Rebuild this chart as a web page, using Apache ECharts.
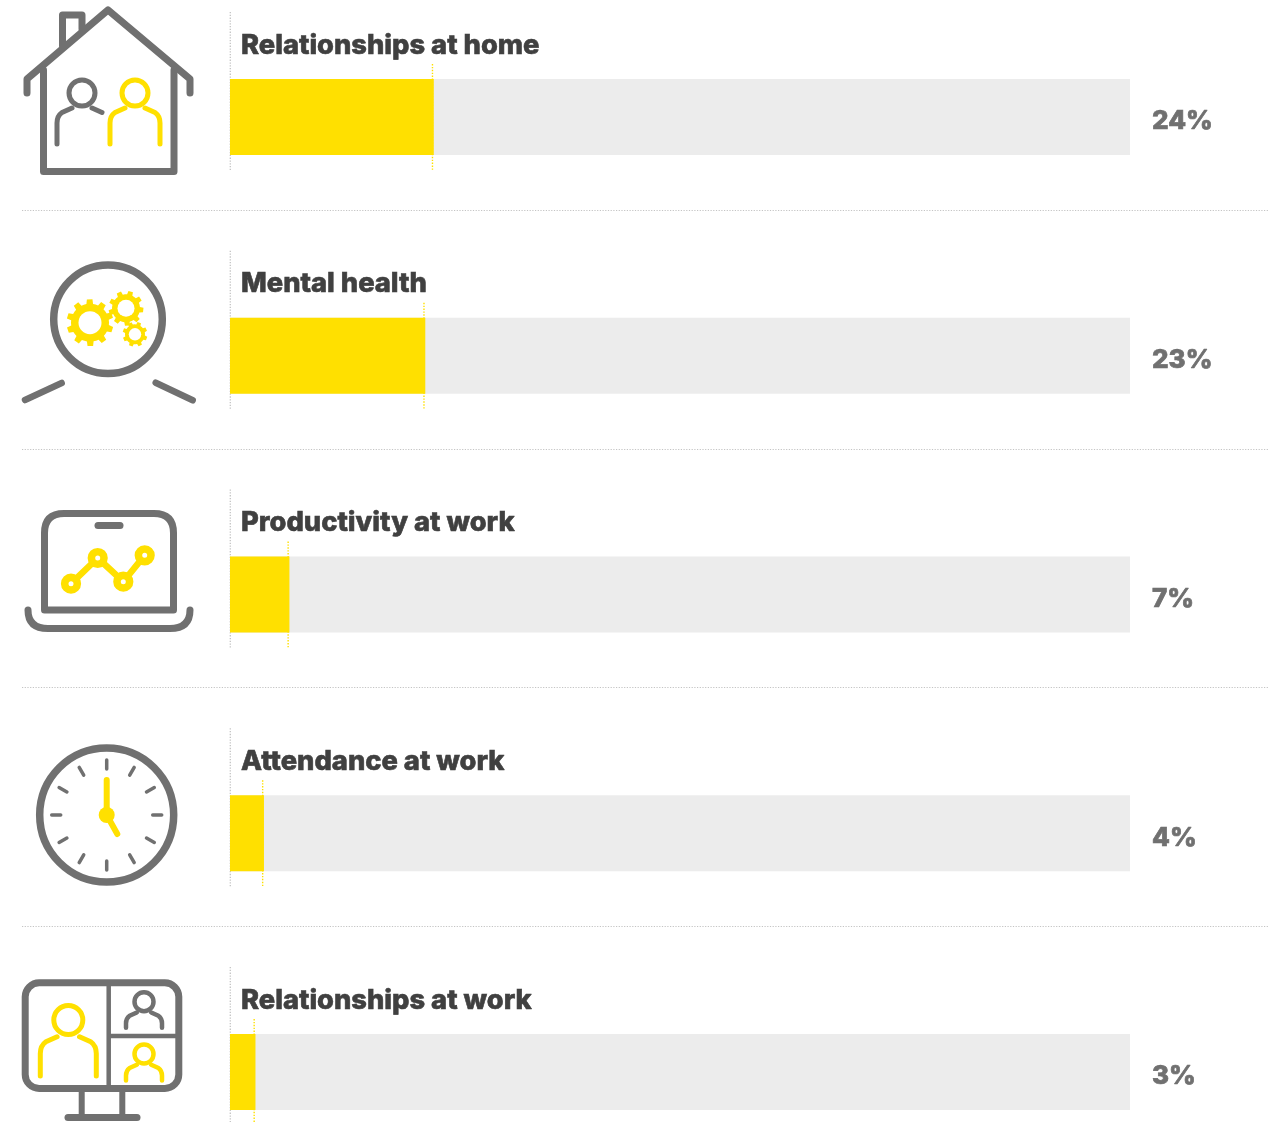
<!DOCTYPE html>
<html><head><meta charset="utf-8">
<style>html,body{margin:0;padding:0;background:#fff}#c{width:1271px;height:1122px}</style>
<script src="https://cdn.jsdelivr.net/npm/echarts@6/dist/echarts.min.js"></script>
</head><body><div id="c"></div>
<script>
const categories = ['Relationships at home','Mental health','Productivity at work','Attendance at work','Relationships at work'];
const percentages = [24,23,7,4,3];
const axisMax = 106;
const trackValues = [axisMax,axisMax,axisMax,axisMax,axisMax];

const GRAY='#707070', YEL='#FFE000', FONT='Inter, Roboto, sans-serif';
const chart = echarts.init(document.getElementById('c'),null,{renderer:'canvas'});

function stroke(d,color,lw){return {type:'path',shape:{pathData:d},style:{fill:'none',stroke:color,lineWidth:lw,lineCap:'round',lineJoin:'round'}};}
function fill(d,color){return {type:'path',shape:{pathData:d},style:{fill:color,stroke:null}};}
function circ(cx,cy,r,color,lw,f){return {type:'circle',shape:{cx,cy,r},style:{fill:f||'none',stroke:color,lineWidth:lw}};}
function person(cx,cy,r,s,bottom,color,lw,rightStub){
  const x=v=>(cx+v*s).toFixed(1), y=v=>(cy+v*s).toFixed(1), b=(cy+bottom).toFixed(1);
  const L=`M${x(-10)},${y(15)} L${x(-20)},${y(19.5)} Q${x(-25)},${y(23)} ${x(-25)},${y(30)} L${x(-25)},${b}`;
  const R=rightStub?`M${x(10)},${y(15)} L${x(20)},${y(19.5)}`:`M${x(10)},${y(15)} L${x(20)},${y(19.5)} Q${x(25)},${y(23)} ${x(25)},${y(30)} L${x(25)},${b}`;
  return [circ(cx,cy,r,color,lw),stroke(L+' '+R,color,lw)];
}
function gear(cx,cy,R,root,hole,n,rot){
  let d='';
  const step=2*Math.PI/n;
  for(let i=0;i<n;i++){
    const a=rot+i*step, p=[[-.5,root],[-.28,root],[-.19,R],[.19,R],[.28,root],[.5,root]];
    p.forEach((q,j)=>{const t=a+q[0]*step;d+=((i===0&&j===0)?'M':'L')+(cx+q[1]*Math.cos(t)).toFixed(2)+','+(cy+q[1]*Math.sin(t)).toFixed(2)+' ';});
  }
  return [fill(d+'Z',YEL),circ(cx,cy,hole,'#fff',0,'#fff')];
}
const icons=[];
// house
icons.push(stroke('M62.5,46 L62.5,15 L82,15 L82,29',GRAY,7));
icons.push(stroke('M27,93 L27,79 L108,10 L190,79 L190,93',GRAY,7));
icons.push(stroke('M43.5,70 L43.5,171.5 L174,171.5 L174,70',GRAY,7));
icons.push(...person(82,93,13,1,51,GRAY,5,true));
icons.push(...person(135,93,13,1,51,YEL,5,false));
// magnifier
icons.push(circ(108,319.3,54.3,GRAY,7.5));
icons.push(stroke('M25,400 L61.7,383 M155.7,382.7 L192.7,400.3',GRAY,6.5));
icons.push(...gear(90,322.7,23.5,19,11.5,10,0.3));
icons.push(...gear(126,308.3,17.5,14,8.5,9,0.1));
icons.push(...gear(135,334.3,12.5,10,6.2,8,0.35));
// laptop
icons.push(stroke('M44.5,610 V533 Q44.5,513.5 64,513.5 H154 Q173.5,513.5 173.5,533 V610 Z',GRAY,7));
icons.push(stroke('M98,525.5 H120',GRAY,7));
icons.push(stroke('M28,610 Q28,628.5 48,628.5 H170 Q190,628.5 190,610',GRAY,7));
icons.push(stroke('M71,583.7 L97.7,558 L123.3,581.7 L144.7,555.3',YEL,6.5));
[[71,583.7],[97.7,558],[123.3,581.7],[144.7,555.3]].forEach(p=>icons.push(circ(p[0],p[1],6.3,YEL,7.6,'#fff')));
// clock
icons.push(circ(106.7,815,67,GRAY,7.5));
for(let i=0;i<12;i++){
  const a=i*Math.PI/6,s=Math.sin(a),c=Math.cos(a);
  icons.push(stroke(`M${(106.7+46*s).toFixed(1)},${(815-46*c).toFixed(1)} L${(106.7+55*s).toFixed(1)},${(815-55*c).toFixed(1)}`,GRAY,3.5));
}
icons.push(stroke('M106.7,815 L106.7,780 M106.7,815 L117.3,834',YEL,6));
icons.push(circ(106.7,815,8,YEL,0,YEL));
// monitor
icons.push({type:'rect',shape:{x:25.2,y:982.8,width:153.6,height:105.7,r:14},style:{fill:'none',stroke:GRAY,lineWidth:7}});
icons.push({type:'path',shape:{pathData:'M108.7,983 V1088 M108.7,1036 H178'},style:{fill:'none',stroke:GRAY,lineWidth:4.5}});
icons.push(stroke('M81.7,1092 V1115 M122.3,1092 V1115',GRAY,6));
icons.push(stroke('M68,1117.5 H137',GRAY,7));
icons.push(...person(68.3,1020,14.5,1.12,56,YEL,5,false));
icons.push(...person(144,1001.7,9.5,.72,26,GRAY,4.5,false));
icons.push(...person(144,1054,9.5,.72,26.5,YEL,4.5,false));
// dividers
[210,449,687,926].forEach(y=>icons.push({type:'line',shape:{x1:22,y1:y+.5,x2:1269,y2:y+.5},style:{stroke:'#c4c4c4',lineWidth:1.2,lineDash:[1.2,1.5]}}));

function ticks(params,api){
  const v=api.value(0), cat=api.value(1);
  const c0=api.coord([0,cat]), c1=api.coord([v,cat]);
  const half=38;
  return {type:'group',children:[
    {type:'line',shape:{x1:c0[0]+.3,y1:c0[1]-half-67,x2:c0[0]+.3,y2:c0[1]+half+15},style:{stroke:'#c4c4c4',lineWidth:1.3,lineDash:[1.3,1.5]}},
    {type:'line',shape:{x1:c1[0]-1.3,y1:c1[1]-half-15,x2:c1[0]-1.3,y2:c1[1]+half+15},style:{stroke:YEL,lineWidth:1.4,lineDash:[1.4,1.5]}}
  ]};
}

chart.setOption({
  animation:false,
  backgroundColor:'#fff',
  grid:{left:230,width:900,top:117,height:955,containLabel:false},
  xAxis:{type:'value',min:0,max:axisMax,show:false},
  yAxis:{type:'category',inverse:true,boundaryGap:false,data:categories,show:false},
  series:[
    {type:'custom',coordinateSystem:'none',data:[[0]],z:1,silent:true,clip:false,
     renderItem:()=>({type:'group',children:icons})},
    {type:'bar',data:trackValues,barWidth:76,barGap:'-100%',z:2,silent:true,clip:false,itemStyle:{color:'#ECECEC'},
     label:{show:true,position:'right',distance:22,offset:[0,4.5],color:GRAY,fontFamily:FONT,fontWeight:800,fontSize:26,textBorderColor:GRAY,textBorderWidth:.7,
       formatter:p=>percentages[p.dataIndex]+'%'}},
    {type:'bar',data:percentages,barWidth:76,barGap:'-100%',z:4,silent:true,clip:false,itemStyle:{color:YEL},
     label:{show:true,position:[11,-33.5],align:'left',verticalAlign:'middle',color:'#404040',fontFamily:FONT,fontWeight:800,fontSize:27.3,textBorderColor:'#404040',textBorderWidth:.6,
       formatter:p=>p.name}},
    {type:'custom',data:percentages.map((v,i)=>[v,i]),z:3,silent:true,clip:false,renderItem:ticks,encode:{x:0,y:1}}
  ]
});
</script></body></html>
